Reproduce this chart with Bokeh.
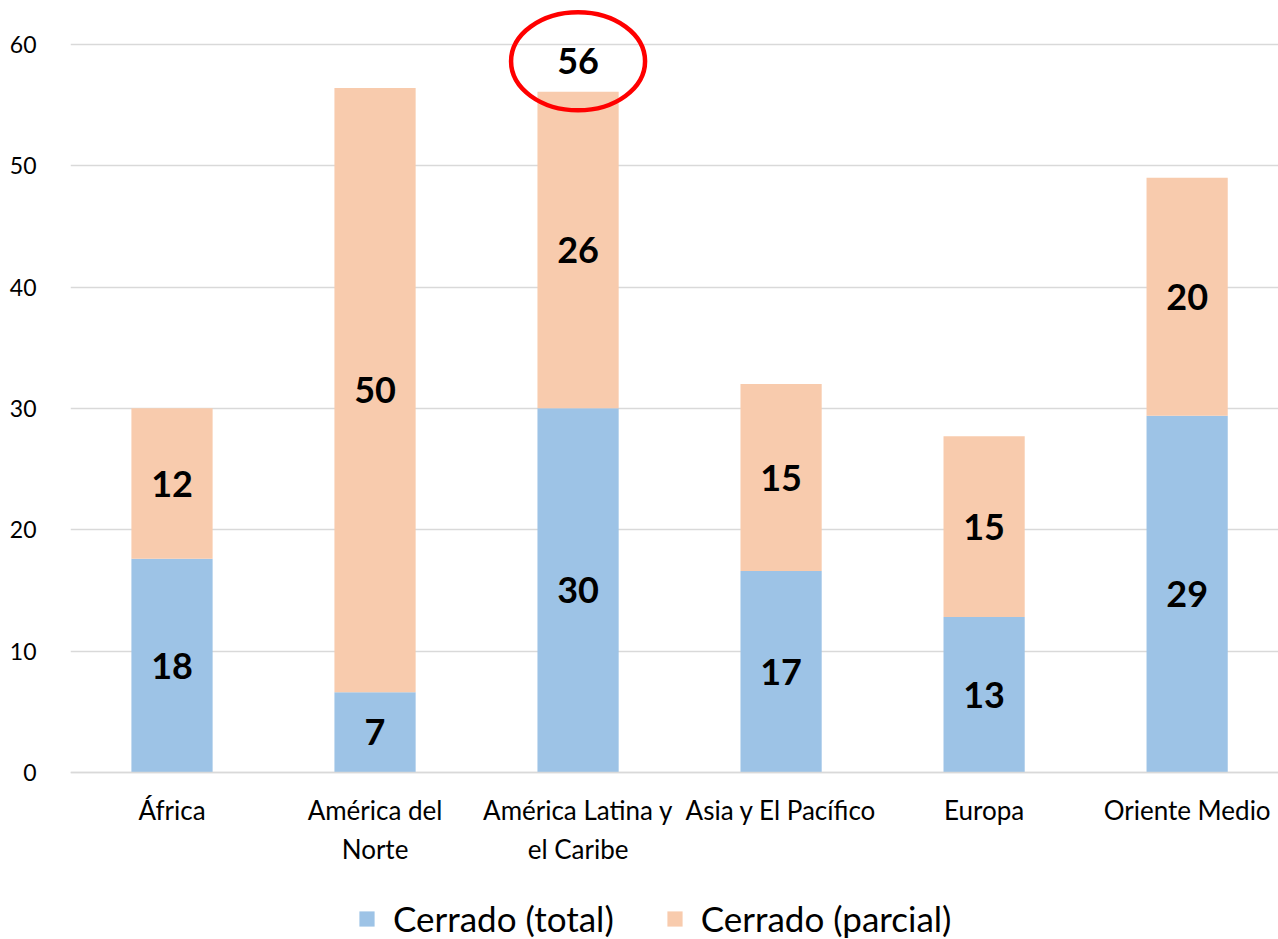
from bokeh.plotting import figure
from bokeh.models import (ColumnDataSource, Range1d, FixedTicker, Legend, LegendItem)
from bokeh.core.properties import value
from bokeh.embed import file_html
from bokeh.resources import INLINE

# Regions and their closed-site counts
regions = ["África", "América del\nNorte", "América Latina y\nel Caribe",
           "Asia y El Pacífico", "Europa", "Oriente Medio"]
cerrado_total = [17.6, 6.6, 30.0, 16.6, 12.8, 29.4]
cerrado_parcial = [12.4, 49.8, 26.1, 15.4, 14.9, 19.6]
series_names = ["Cerrado (total)", "Cerrado (parcial)"]
y_ticks = [0, 10, 20, 30, 40, 50, 60]
highlight_region = "América Latina y\nel Caribe"

BLUE = "#9DC3E6"
PEACH = "#F8CBAD"
GRID = "#D9D9D9"
FONT = "Lato"

xs = list(range(len(regions)))
tops = [a + b for a, b in zip(cerrado_total, cerrado_parcial)]
src = ColumnDataSource(dict(
    x=xs,
    total=cerrado_total,
    parcial=cerrado_parcial,
    mid_total=[a / 2 for a in cerrado_total],
    mid_parcial=[a + b / 2 for a, b in zip(cerrado_total, cerrado_parcial)],
    lab_total=[f"{round(v):d}" for v in cerrado_total],
    lab_parcial=[f"{round(v):d}" for v in cerrado_parcial],
))

# The frame runs to the bottom edge; the category axis is pinned at y=0 and
# the legend sits in the space beneath it.
p = figure(width=1278, height=939,
           min_border_left=70, min_border_right=0, min_border_top=5,
           min_border_bottom=0,
           x_range=Range1d(-0.5, 5.45), y_range=Range1d(-13.77, 63.2),
           output_backend="svg", toolbar_location=None,
           background_fill_color="white", border_fill_color="white")
p.outline_line_color = None

stack = p.vbar_stack(["total", "parcial"], x="x", width=0.4, source=src,
                     color=[BLUE, PEACH], line_color=None)

label_style = dict(text_font=value(FONT), text_font_style="bold",
                   text_font_size="36px", text_align="center",
                   text_baseline="middle", text_color="black")
p.text(x="x", y="mid_total", text="lab_total", source=src, **label_style)
p.text(x="x", y="mid_parcial", text="lab_parcial", source=src, **label_style)

# Highlighted total above one column, circled in red
hi = regions.index(highlight_region)
hi_src = ColumnDataSource(dict(x=[hi], y=[tops[hi] + 2.5],
                               text=[f"{round(tops[hi]):d}"]))
p.text(x="x", y="y", text="text", source=hi_src, **label_style)
p.ellipse(x="x", y="y", width=134, height=98, width_units="screen",
          height_units="screen", source=hi_src, fill_color=None,
          line_color="#FF0000", line_width=4.5)

# Category axis
p.xaxis.fixed_location = 0
p.xaxis.ticker = FixedTicker(ticks=xs)
p.xaxis.major_label_overrides = {i: r for i, r in enumerate(regions)}
p.xaxis.major_label_text_font = FONT
p.xaxis.major_label_text_font_size = "26px"
p.xaxis.major_label_text_color = "black"
p.xaxis.major_label_standoff = 16
p.xaxis.axis_line_color = GRID
p.xaxis.axis_line_width = 1.5
p.xaxis.major_tick_line_color = None
p.xaxis.minor_tick_line_color = None

# Value axis
p.yaxis.ticker = FixedTicker(ticks=y_ticks)
p.yaxis.major_label_text_font = FONT
p.yaxis.major_label_text_font_size = "23px"
p.yaxis.major_label_text_color = "black"
p.yaxis.major_label_standoff = 28
p.yaxis.axis_line_color = None
p.yaxis.major_tick_line_color = None
p.yaxis.minor_tick_line_color = None

p.xgrid.grid_line_color = None
p.ygrid.grid_line_color = GRID
p.ygrid.grid_line_width = 1.5

legend = Legend(items=[LegendItem(label=series_names[0], renderers=[stack[0]]),
                       LegendItem(label=series_names[1], renderers=[stack[1]])],
                orientation="horizontal", location=(287, 0),
                label_text_font=FONT, label_text_font_size="35px",
                label_text_color="black",
                glyph_width=19, glyph_height=19, label_standoff=17,
                spacing=51, border_line_color=None,
                background_fill_alpha=0, margin=0, padding=0)
p.add_layout(legend, "center")

open("out.html", "w").write(file_html(p, INLINE))
